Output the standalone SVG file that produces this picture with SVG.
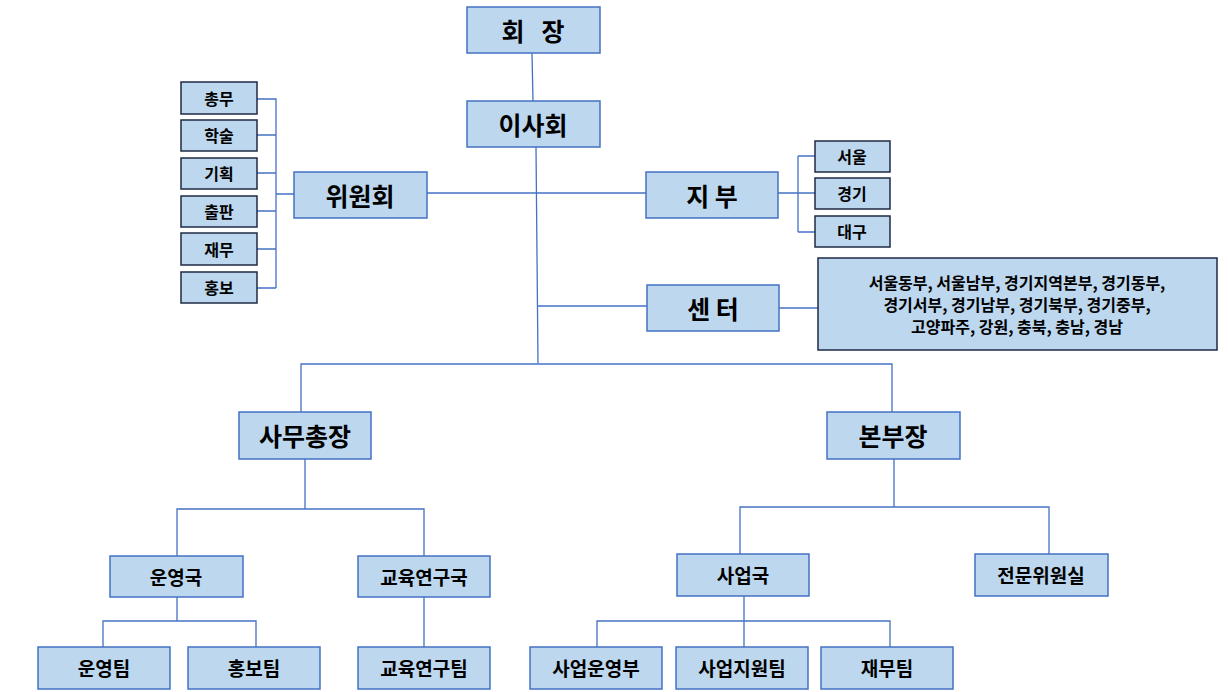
<svg xmlns="http://www.w3.org/2000/svg" width="1228" height="692" viewBox="0 0 1228 692">
<style>
.b{fill:#bdd7ee;stroke:#4472c4;stroke-width:1.5}
.d{fill:#bdd7ee;stroke:#1f2a44;stroke-width:1.5}
text{font-family:"Noto Sans CJK KR","Noto Sans",sans-serif;font-weight:bold;fill:#000;text-anchor:middle;dominant-baseline:central}
.l{font-size:25px}.m{font-size:19px}.s{font-size:16px}
#c path{stroke:#4472c4;stroke-width:1.3;fill:none}
</style>
<rect width="1228" height="692" fill="#fff"/>
<g id="c">
<path d="M532 53L533 101M536 147L538 363M427 193H646M257 99H276V288M257 135H276M257 173H276M257 211H276M257 249H276M257 288H276M276 194H294"/>
<path d="M778 193H798M798 156V232M798 156H815M798 193H815M798 232H815M538 306H647M779 308H818"/>
<path d="M301 412V364H892V412M305 459V509M177 556V509H424V556M177 597V621M103 647V621H256V647M424 597V647"/>
<path d="M894 459V507M740 554V507H1049V554M744 596V621M597 647V621H890V647M744 621V647"/>
</g>
<g id="n1"><rect class="b" x="467" y="7" width="133" height="46"/><text class="l" x="533" y="30">회&#160;&#160;&#160;장</text></g>
<g id="n2"><rect class="b" x="467" y="101" width="133" height="46"/><text class="l" x="533" y="124">이사회</text></g>
<g id="n3"><rect class="b" x="294" y="172" width="133" height="46"/><text class="l" x="360" y="195">위원회</text></g>
<g id="n4"><rect class="b" x="646" y="172" width="132" height="46"/><text class="l" x="712" y="195">지 부</text></g>
<g id="n5"><rect class="b" x="647" y="285" width="132" height="46"/><text class="l" x="713" y="308">센 터</text></g>
<g id="n6"><rect class="d" x="818" y="258" width="399" height="92"/><text class="s" x="1017" y="282">서울동부, 서울남부, 경기지역본부, 경기동부,</text><text class="s" x="1017" y="304">경기서부, 경기남부, 경기북부, 경기중부,</text><text class="s" x="1017" y="326">고양파주, 강원, 충북, 충남, 경남</text></g>
<g id="s1"><rect class="d" x="181" y="82" width="76" height="32"/><text class="s" x="219" y="98">총무</text></g>
<g id="s2"><rect class="d" x="181" y="120" width="76" height="31"/><text class="s" x="219" y="135">학술</text></g>
<g id="s3"><rect class="d" x="181" y="158" width="76" height="31"/><text class="s" x="219" y="173">기획</text></g>
<g id="s4"><rect class="d" x="181" y="196" width="76" height="31"/><text class="s" x="219" y="211">출판</text></g>
<g id="s5"><rect class="d" x="181" y="233" width="76" height="32"/><text class="s" x="219" y="249">재무</text></g>
<g id="s6"><rect class="d" x="181" y="272" width="76" height="31"/><text class="s" x="219" y="287">홍보</text></g>
<g id="r1"><rect class="d" x="815" y="141" width="75" height="31"/><text class="s" x="852" y="156">서울</text></g>
<g id="r2"><rect class="d" x="815" y="178" width="75" height="31"/><text class="s" x="852" y="193">경기</text></g>
<g id="r3"><rect class="d" x="815" y="216" width="75" height="31"/><text class="s" x="852" y="231">대구</text></g>
<g id="n7"><rect class="b" x="239" y="412" width="132" height="47"/><text class="l" x="305" y="435">사무총장</text></g>
<g id="n8"><rect class="b" x="827" y="412" width="133" height="47"/><text class="l" x="893" y="435">본부장</text></g>
<g id="n9"><rect class="b" x="110" y="556" width="133" height="41"/><text class="m" x="176" y="576">운영국</text></g>
<g id="n10"><rect class="b" x="358" y="556" width="132" height="41"/><text class="m" x="424" y="576">교육연구국</text></g>
<g id="n11"><rect class="b" x="677" y="554" width="132" height="42"/><text class="m" x="743" y="574">사업국</text></g>
<g id="n12"><rect class="b" x="975" y="554" width="133" height="42"/><text class="m" x="1041" y="574">전문위원실</text></g>
<g id="t1"><rect class="b" x="38" y="647" width="132" height="42"/><text class="m" x="104" y="667">운영팀</text></g>
<g id="t2"><rect class="b" x="188" y="647" width="132" height="42"/><text class="m" x="254" y="667">홍보팀</text></g>
<g id="t3"><rect class="b" x="358" y="647" width="132" height="42"/><text class="m" x="424" y="667">교육연구팀</text></g>
<g id="t4"><rect class="b" x="530" y="647" width="132" height="42"/><text class="m" x="596" y="667">사업운영부</text></g>
<g id="t5"><rect class="b" x="676" y="647" width="132" height="42"/><text class="m" x="742" y="667">사업지원팀</text></g>
<g id="t6"><rect class="b" x="821" y="647" width="132" height="42"/><text class="m" x="887" y="667">재무팀</text></g>
</svg>
